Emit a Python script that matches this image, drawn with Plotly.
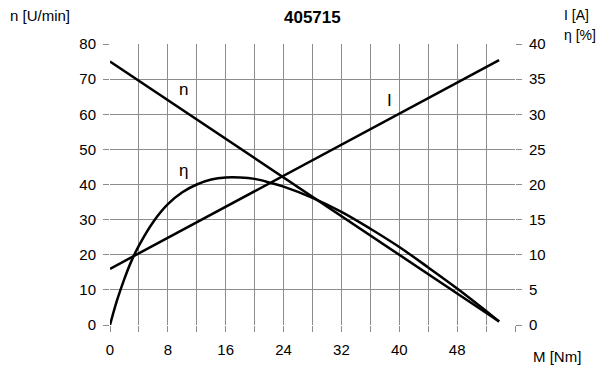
import plotly.graph_objects as go

# Data
m_line = [0, 53.8]
n_vals = [75, 1]            # n [U/min], left axis
i_vals = [8, 37.7]          # I [A], right axis

m_eta = [0, 1, 2, 3, 4, 6, 8, 10, 12, 14, 16, 18, 20, 22, 24, 28, 32, 36, 40, 44, 48, 52, 53.8]
eta_vals = [0, 3.6, 6.6, 9.2, 11.3, 14.7, 17.2, 18.9, 20.0, 20.7, 21.0, 21.0, 20.8, 20.3,
            19.7, 18.1, 16.1, 13.7, 11.1, 8.2, 5.2, 2.0, 0.5]

x_ticks = list(range(0, 57, 4))
x_labels = [str(v) if v % 8 == 0 and v <= 48 else "" for v in x_ticks]
y_left_ticks = list(range(0, 81, 10))
y_right_ticks = list(range(0, 41, 5))

font = "Liberation Sans"
black = "#000000"
grid = "#8c8c8c"

L, R, T, B = 110, 85, 44, 60
W, H = 600, 385
pw, ph = W - L - R, H - T - B


def px(x, y):
    return (x - L) / pw, (H - B - y) / ph


fig = go.Figure()
fig.add_trace(go.Scatter(x=m_line, y=n_vals, mode="lines", line=dict(color=black, width=2.5),
                         yaxis="y", showlegend=False))
fig.add_trace(go.Scatter(x=m_line, y=i_vals, mode="lines", line=dict(color=black, width=2.5),
                         yaxis="y2", showlegend=False))
fig.add_trace(go.Scatter(x=m_eta, y=eta_vals, mode="lines", line=dict(color=black, width=2.5, shape="spline"),
                         yaxis="y2", showlegend=False))

ann = []
ann.append(dict(text="<b>405715</b>", x=0.5, y=1, xref="paper", yref="paper", xanchor="center",
                yanchor="middle", yshift=27, showarrow=False, font=dict(size=17)))
for text, x, y, s in [("n [U/min]", 8, 15, 15), ("I [A]", 562, 15, 14), ("η [%]", 562, 35, 14),
                      ("M [Nm]", 531, 356, 15)]:
    xx, yy = px(x, y)
    ann.append(dict(text=text, x=xx, y=yy, xref="paper", yref="paper", showarrow=False,
                    xanchor="left", yanchor="middle", font=dict(size=s)))
for text, x, y in [("n", 10.1, 67), ("I", 38.7, 64), ("η", 10.2, 44)]:
    ann.append(dict(text=text, x=x, y=y, xref="x", yref="y", showarrow=False, font=dict(size=17)))

fig.update_layout(
    width=W, height=H,
    margin=dict(l=L, r=R, t=T, b=B),
    paper_bgcolor="white", plot_bgcolor="white",
    font=dict(family=font, size=15, color=black),
    xaxis=dict(range=[0, 56], tickvals=x_ticks, ticktext=x_labels, showgrid=True,
               gridcolor=grid, gridwidth=1, ticks="outside", ticklen=6, tickcolor=grid,
               zeroline=False, showline=False, tickfont=dict(size=15), ticklabelstandoff=5),
    yaxis=dict(range=[0, 80], tickvals=y_left_ticks, showgrid=True, gridcolor=grid, gridwidth=1,
               ticks="outside", ticklen=6, tickcolor=grid, zeroline=False, showline=False,
               tickfont=dict(size=15), ticklabelstandoff=4),
    yaxis2=dict(range=[0, 40], tickvals=y_right_ticks, overlaying="y", side="right",
                showgrid=False, ticks="outside", ticklen=6, tickcolor=grid, zeroline=False,
                showline=False, tickfont=dict(size=15), ticklabelstandoff=4),
    annotations=ann,
)

fig.write_html("out.html")
